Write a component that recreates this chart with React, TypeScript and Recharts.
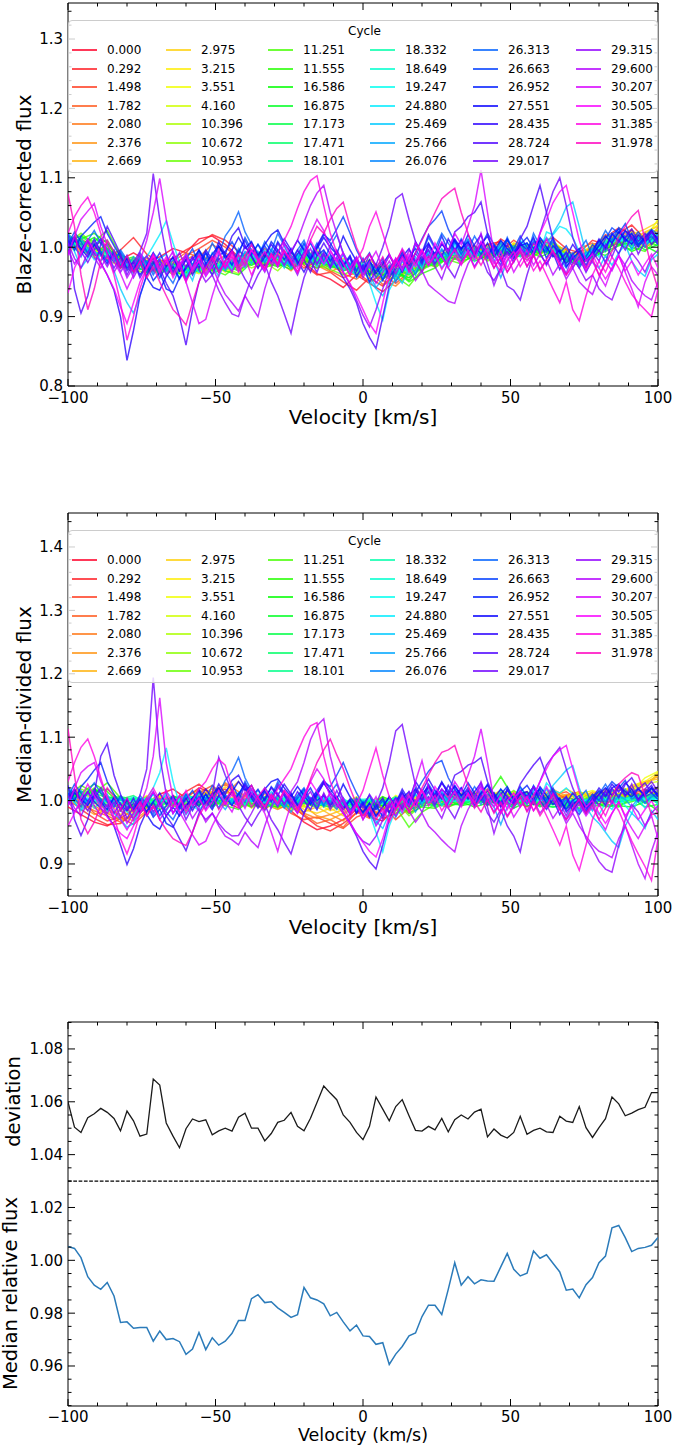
import React from 'react';
import { LineChart, Line, XAxis, YAxis, Legend, ReferenceArea, ReferenceLine } from 'recharts';

const FONT = '"DejaVu Sans", "Liberation Sans", sans-serif';

// observation cycles, legend order
const CYCLES = [
  '0.000', '0.292', '1.498', '1.782', '2.080', '2.376', '2.669',
  '2.975', '3.215', '3.551', '4.160', '10.396', '10.672', '10.953',
  '11.251', '11.555', '16.586', '16.875', '17.173', '17.471', '18.101',
  '18.332', '18.649', '19.247', '24.880', '25.469', '25.766', '26.076',
  '26.313', '26.663', '26.952', '27.551', '28.435', '28.724', '29.017',
  '29.315', '29.600', '30.207', '30.505', '31.385', '31.978',
];

// velocity grid (km/s)
const VELOCITY = [
  -100, -97.8, -95.6, -93.3, -91.1, -88.9, -86.7, -84.4, -82.2, -80,
  -77.8, -75.6, -73.3, -71.1, -68.9, -66.7, -64.4, -62.2, -60, -57.8,
  -55.6, -53.3, -51.1, -48.9, -46.7, -44.4, -42.2, -40, -37.8, -35.6,
  -33.3, -31.1, -28.9, -26.7, -24.4, -22.2, -20, -17.8, -15.6, -13.3,
  -11.1, -8.9, -6.7, -4.4, -2.2, 0, 2.2, 4.4, 6.7, 8.9,
  11.1, 13.3, 15.6, 17.8, 20, 22.2, 24.4, 26.7, 28.9, 31.1,
  33.3, 35.6, 37.8, 40, 42.2, 44.4, 46.7, 48.9, 51.1, 53.3,
  55.6, 57.8, 60, 62.2, 64.4, 66.7, 68.9, 71.1, 73.3, 75.6,
  77.8, 80, 82.2, 84.4, 86.7, 88.9, 91.1, 93.3, 95.6, 97.8,
  100,
];
const VELOCITY_COARSE = VELOCITY.filter((_, i) => i % 2 === 0);

const X_TICKS = [-100, -90, -80, -70, -60, -50, -40, -30, -20, -10, 0, 10, 20, 30, 40, 50, 60, 70, 80, 90, 100];

// bottom panel
const DEVIATION = [
  1.0600, 1.0504, 1.0484, 1.0540, 1.0555, 1.0575, 1.0560, 1.0537, 1.0490, 1.0565,
  1.0528, 1.0470, 1.0478, 1.0686, 1.0663, 1.0520, 1.0470, 1.0426, 1.0498, 1.0535,
  1.0525, 1.0532, 1.0475, 1.0490, 1.0500, 1.0489, 1.0542, 1.0557, 1.0500, 1.0500,
  1.0452, 1.0480, 1.0522, 1.0530, 1.0560, 1.0507, 1.0490, 1.0538, 1.0597, 1.0660,
  1.0633, 1.0608, 1.0550, 1.0522, 1.0484, 1.0457, 1.0507, 1.0618, 1.0572, 1.0528,
  1.0582, 1.0608, 1.0547, 1.0492, 1.0489, 1.0507, 1.0494, 1.0537, 1.0486, 1.0532,
  1.0550, 1.0535, 1.0561, 1.0572, 1.0467, 1.0497, 1.0474, 1.0463, 1.0484, 1.0545,
  1.0477, 1.0492, 1.0500, 1.0486, 1.0484, 1.0545, 1.0527, 1.0522, 1.0582, 1.0502,
  1.0465, 1.0502, 1.0536, 1.0618, 1.0592, 1.0547, 1.0557, 1.0570, 1.0579, 1.0635,
  1.0635,
];
const MEDIAN = [
  1.0052, 1.0045, 1.0010, 0.9938, 0.9906, 0.9890, 0.9916, 0.9865, 0.9765, 0.9767,
  0.9743, 0.9746, 0.9746, 0.9694, 0.9732, 0.9700, 0.9704, 0.9692, 0.9644, 0.9664,
  0.9727, 0.9662, 0.9707, 0.9679, 0.9694, 0.9724, 0.9772, 0.9772, 0.9855, 0.9870,
  0.9840, 0.9843, 0.9820, 0.9803, 0.9784, 0.9794, 0.9897, 0.9858, 0.9850, 0.9835,
  0.9790, 0.9803, 0.9767, 0.9733, 0.9755, 0.9714, 0.9712, 0.9682, 0.9688, 0.9606,
  0.9645, 0.9674, 0.9714, 0.9725, 0.9787, 0.9830, 0.9830, 0.9795, 0.9890, 0.9991,
  0.9906, 0.9938, 0.9911, 0.9926, 0.9922, 0.9921, 0.9975, 1.0026, 0.9966, 0.9941,
  0.9951, 1.0035, 1.0008, 1.0021, 0.9989, 0.9956, 0.9887, 0.9891, 0.9858, 0.9908,
  0.9935, 0.9991, 1.0016, 1.0123, 1.0132, 1.0086, 1.0033, 1.0045, 1.0049, 1.0057,
  1.0086,
];
const DEVIATION_SPLIT = 1.03;

// ---- blaze-corrected flux, offsets from 1.0 in units of 0.001 ----
// quiet spectra read on every second velocity bin
const B0 = [10, -4, -12, 6, -18, -8, -20, -14, -2, -8, 12, 16, 4, -14, -8, -20, -6, -30, -22, -38, -46, -58, -40, -52, -64, -48, -30, -22, -8, -14, 0, -12, 4, 8, -6, 2, 10, 4, -4, -16, 2, 14, 28, 18, 6, 14];
const B1 = [2, 8, -2, -14, -4, 14, -10, -22, -16, -4, 6, 18, 10, -6, -16, -2, -18, -8, -26, -40, -36, -50, -62, -44, -56, -40, -24, -34, -14, -6, -14, 2, -8, 12, 0, -10, 6, 14, -2, -8, 10, 4, 20, 32, 12, 6];
const B2 = [-6, 12, 0, -10, -26, -16, -30, -18, -26, -12, -2, 10, 0, -16, -4, -14, -24, -12, -30, -20, -34, -44, -36, -50, -40, -52, -36, -20, -28, -4, -16, -6, 4, -6, 10, -4, -10, 6, -12, -6, -2, 18, 10, 24, 8, 16];
const B3 = [4, -8, 6, -16, -10, -24, -14, -30, -20, -8, -14, 4, -8, -22, -10, -26, -14, -28, -18, -30, -24, -38, -46, -32, -54, -40, -22, -30, -12, -20, -4, -14, -2, 6, -10, 0, 8, -8, -18, -2, 6, -4, 14, 26, 0, 10];
const B4 = [12, 0, -16, -4, -20, -30, -16, -26, -34, -18, -8, -22, -12, -28, -18, -6, -20, -34, -16, -26, -36, -26, -42, -34, -48, -56, -38, -28, -14, -24, -8, -18, -6, -14, 4, -8, 2, -10, -4, -18, -6, 8, 22, 6, 18, 24];
const B5 = [-2, 10, -6, 2, -14, -22, -32, -20, -28, -38, -20, -14, -28, -16, -4, -18, -10, -24, -12, -20, -28, -34, -20, -40, -30, -44, -26, -14, -24, -8, -12, 0, -14, -4, -10, 4, -6, 6, -16, -10, 2, 12, 4, 16, 10, 28];
const B6 = [8, -6, -2, -18, -28, -16, -24, -36, -22, -30, -32, -18, -24, -12, -22, -10, -26, -16, -4, -18, -12, -30, -22, -36, -26, -40, -32, -16, -10, -18, -2, -10, 2, -8, 6, -4, 10, 2, -8, -14, 0, 6, 16, 10, 22, 30];
const B7 = [0, 14, -10, -4, -20, -34, -22, -30, -38, -26, -22, -34, -26, -18, -10, -24, -14, -30, -6, -12, -26, -16, -34, -24, -38, -30, -20, -26, -12, -2, -14, -4, -12, 4, -8, -2, 8, -6, -10, -20, -4, 10, 6, 18, 26, 36];
const B8 = [6, -4, -14, 0, -30, -20, -34, -24, -30, -40, -30, -24, -36, -28, -12, -20, -8, -22, -14, -4, -18, -28, -20, -32, -24, -42, -34, -22, -16, -6, -10, 2, -14, -6, -2, -12, 6, 0, -14, -8, -12, 4, 14, 8, 20, 32];
const B9 = [-8, 6, -4, -12, -26, -36, -28, -20, -32, -44, -26, -32, -22, -34, -20, -12, -24, -18, -10, -22, -30, -20, -28, -38, -30, -24, -36, -18, -24, -14, -4, -14, 0, -10, 6, -6, 2, -8, -20, -12, 4, -2, 10, 22, 12, 40];
const B10 = [14, 2, -6, -16, -22, -30, -20, -34, -26, -32, -38, -28, -34, -20, -26, -14, -28, -20, -16, -6, -24, -32, -26, -18, -34, -28, -40, -30, -20, -10, -16, -6, -18, 2, -8, -14, -2, 8, -6, -16, -8, 6, 18, 4, 14, 26];
const B11 = [-4, 10, -12, -2, -18, -32, -38, -26, -36, -28, -34, -22, -30, -38, -18, -28, -12, -26, -20, -10, -16, -28, -38, -24, -30, -38, -26, -34, -14, -20, -6, -12, -4, -14, 0, -8, -4, 4, -12, -22, -10, 0, 20, 12, 0, 16];
const B12 = [18, 4, -2, -10, -30, -22, -30, -38, -28, -34, -24, -38, -28, -20, -30, -22, -34, -14, -24, -16, -26, -20, -34, -42, -28, -36, -44, -22, -28, -12, -18, -8, -16, -6, -12, 2, -10, -2, -16, -24, -14, 8, 4, 14, 6, 20];
const B13 = [6, 20, 4, -8, -16, -28, -34, -24, -40, -30, -36, -26, -20, -32, -24, -12, -20, -28, -18, -26, -32, -40, -30, -26, -38, -46, -34, -26, -16, -22, -12, -4, -20, -8, 2, -10, -6, 6, -10, -18, -2, 2, 12, 6, 16, 10];
const B14 = [10, 16, 8, 24, -12, -20, -30, -36, -26, -38, -28, -32, -40, -26, -18, -30, -22, -14, -24, -30, -20, -34, -26, -36, -30, -42, -56, -32, -24, -18, -24, -10, -2, -14, -6, -18, -8, 0, -20, -10, -16, -4, 8, 0, -6, 12];
const B15 = [0, 12, 20, 6, -20, -14, -26, -20, -34, -42, -32, -24, -34, -40, -22, -26, -18, -30, -22, -14, -28, -24, -40, -30, -46, -34, -50, -38, -30, -14, -20, -14, -6, -2, -12, -4, -14, -6, -22, -14, -6, -12, 4, -4, 10, 2];
const B16 = [12, 4, 14, -2, -14, -30, -20, -28, -30, -36, -26, -34, -24, -30, -14, -22, -28, -20, -12, -24, -18, -30, -22, -34, -40, -32, -48, -26, -20, -12, -10, -20, -12, -4, -16, -8, 0, -12, -18, -26, -12, -2, 6, -6, 2, -8];
const B17 = [16, 8, 4, 10, -24, -26, -36, -30, -24, -32, -34, -26, -30, -22, -26, -18, -24, -32, -16, -20, -26, -34, -28, -40, -26, -38, -44, -30, -22, -16, -14, -6, -14, -10, -4, -14, -2, -8, -16, -20, -14, -6, 2, 8, -4, 4];
const B18 = [8, 16, 2, -6, -18, -24, -28, -34, -26, -30, -24, -30, -26, -34, -20, -14, -26, -18, -10, -20, -30, -26, -34, -28, -36, -30, -40, -24, -18, -8, -16, -8, -12, -2, -10, -4, -8, 2, -14, -22, -8, 0, 10, 2, 8, 14];
const B19 = [4, 10, -2, -10, -22, -18, -32, -26, -32, -28, -30, -22, -28, -24, -16, -26, -20, -24, -14, -18, -22, -32, -24, -30, -34, -40, -30, -22, -26, -12, -8, -14, -6, -10, 2, -8, -4, -10, -20, -14, -4, 4, 14, 8, 12, 6];
const B20 = [14, 2, -10, -4, -20, -28, -24, -30, -36, -26, -28, -20, -32, -26, -12, -20, -14, -22, -8, -16, -24, -28, -22, -34, -30, -38, -32, -20, -14, -6, -12, -2, -10, 0, -6, 4, -2, -6, -14, -18, -2, 8, 16, 6, 10, 18];
const B21 = [10, -2, -6, -14, -24, -22, -30, -26, -32, -30, -24, -30, -26, -20, -16, -22, -16, -26, -12, -14, -20, -30, -26, -30, -34, -36, -28, -22, -16, -10, -6, -12, -4, -6, -2, -8, 4, -4, -16, -12, -6, 6, 12, 10, 4, 14];
const B22 = [2, 8, -12, -6, -28, -20, -26, -32, -26, -34, -22, -26, -30, -24, -10, -18, -22, -18, -6, -20, -24, -20, -30, -26, -36, -30, -34, -18, -20, -8, -10, -4, -8, 2, -6, -2, 2, -2, -12, -16, -4, 2, 18, 4, 8, 12];
const B23 = [6, 0, -8, -10, -22, -26, -22, -28, -30, -28, -26, -22, -28, -22, -14, -16, -20, -22, -10, -12, -18, -26, -22, -28, -32, -34, -30, -24, -12, -12, -8, -8, -6, -2, -4, -6, 0, -6, -10, -14, -6, 4, 10, 8, 6, 10];
// active spectra read on every velocity bin
const B24 = [
  8, -2, -10, -4, -18, -12, -20, -8, -22, -30,
  -38, -20, -14, 2, 18, 38, 6, -22, -40, -28,
  -36, -22, -40, -28, -18, -32, -14, -30, -8, -20,
  -4, -18, -26, -10, -30, -14, -2, -22, -8, -26,
  -12, -30, -18, -34, -40, -28, -52, -80, -105, -62,
  -44, -28, -38, -18, -30, -6, -22, -12, -26, 4,
  -14, 2, -20, 4, -10, -22, 8, -6, -16, 10,
  -2, 14, -8, 22, 18, 30, 26, 14, -6, -16,
  -2, -14, 8, 20, 6, 16, -4, 12, 2, 18,
  14,
];
const B25 = [
  12, -6, -30, -16, -4, -20, -10, -34, -60, -80,
  -95, -70, -40, -30, -18, -36, -24, -44, -30, -48,
  -20, -38, -26, -42, -22, -34, -16, -8, -24, -6,
  -20, -2, -14, -30, -12, -26, -4, -18, -28, -10,
  -30, -16, -34, -22, -44, -30, -48, -60, -70, -50,
  -40, -52, -30, -36, -14, -26, -8, -30, -16, -4,
  -18, -2, -12, 6, -10, 4, -8, 10, -2, -14,
  6, -6, 14, 4, 20, 36, 58, 65, 30, -10,
  -22, -30, -12, -26, -8, 4, -20, -34, -42, -18,
  -10,
];
const B26 = [
  20, 8, 14, -2, 6, -10, 4, -18, -6, -28,
  -14, -32, -20, -36, -16, -10, -38, -22, -44, -30,
  -16, -28, -8, -20, -34, -18, -26, -6, -12, 4,
  -8, -22, -4, -16, -30, -10, 0, -20, -6, -24,
  -14, -8, -26, -16, -36, -24, -40, -58, -46, -30,
  -42, -20, -34, -14, -28, -4, -16, -2, -20, 8,
  -6, 10, -12, 2, -8, -18, -44, -20, -6, 4,
  -10, 8, -4, 14, 2, -16, -30, -12, -24, -6,
  -18, 4, 16, 8, 22, 12, -2, 14, 6, 20,
  12,
];
const B27 = [
  -2, 14, 4, -10, 2, 12, -4, -16, -8, -20,
  -30, -12, -24, -8, -20, -34, -18, -28, -10, -26,
  -6, -20, -14, -32, -10, -24, -2, -16, 6, -8,
  -22, -6, -12, -26, -8, -18, 4, -10, -24, -6,
  -16, -28, -10, -34, -18, -38, -22, -30, -44, -26,
  -50, -32, -20, -40, -18, -10, -24, -4, -14, 8,
  -4, 12, -2, -16, 0, -10, 6, -8, -20, -2,
  -12, 10, 0, -6, 8, -4, -20, -8, -26, -12,
  -2, 8, -6, 18, 10, 24, 6, 16, 0, 12,
  20,
];
const B28 = [
  18, 2, -14, 10, 24, 6, -10, -22, -4, -18,
  -30, -8, -22, -40, -24, -38, -52, -30, -12, -26,
  -4, -18, 6, -10, 16, 30, 51, 22, 4, -14,
  8, -6, 20, 2, -18, -4, 10, -12, 6, -20,
  2, 18, -8, -26, -14, -36, -20, -44, -30, -12,
  -28, -6, -22, 4, -10, 14, -2, 20, 6, -8,
  12, -4, 16, 0, -16, 4, -10, 14, -6, 8,
  -12, 20, 2, -8, 12, -20, -6, -24, -4, 10,
  -14, 6, 24, 10, 28, 14, 20, 2, 16, 26,
  18,
];
const B29 = [
  4, 22, 8, -8, 12, -6, -20, -4, -28, -12,
  -32, -16, -36, -20, -44, -28, -14, -34, -18, -2,
  -24, -8, -30, -12, -6, 8, -10, 14, -4, -18,
  2, -14, 8, -6, -24, -10, 6, -16, 0, 18,
  10, 26, 44, 20, -4, -22, -8, -30, -16, -40,
  -22, -6, -26, -8, 12, 30, 40, 52, 26, 8,
  -10, 6, -14, 2, 20, 4, -12, 10, -2, 16,
  0, -12, 8, -4, 14, -8, 2, -16, -30, -14,
  4, -6, 12, 28, 20, 34, 10, 22, 8, 16,
  4,
];
const B30 = [
  10, -4, 16, 26, 36, 44, 20, 2, -14, -30,
  -22, -40, -26, -48, -36, -60, -65, -44, -28, -14,
  -30, -8, -22, 2, -12, -26, -6, 10, -10, 4,
  -14, 8, -4, -18, -2, -24, -8, 6, -12, -4,
  -20, -6, -26, -12, -34, -16, -40, -24, -48, -30,
  -18, -36, -14, -2, -20, 4, -10, 16, -6, 10,
  -4, 18, 2, -10, 6, -14, 0, 12, -8, 4,
  14, -2, 10, -16, 2, -8, -24, -10, -2, -18,
  -8, 10, 0, 18, 26, 8, 20, 4, 14, 24,
  10,
];
const B31 = [
  -6, 10, -2, -14, 4, -10, -24, -8, -30, -16,
  -36, -20, -44, -58, -62, -42, -28, -46, -30, -18,
  -4, -24, -10, 2, -16, -4, 14, -2, 8, -12,
  4, 18, 25, 6, -8, 10, -4, -18, -2, 14,
  0, -10, 16, -4, -20, -32, -18, -38, -24, -10,
  -30, -14, -2, -22, -8, 6, -12, 4, -4, 12,
  -2, 8, -10, 4, 16, -6, 10, -2, -12, 2,
  6, -8, 14, 0, -14, -4, -28, -16, -6, -20,
  -10, 2, 16, 6, 22, 12, 4, 18, 8, 22,
  12,
];
const B32 = [
  2, 16, -4, 10, -8, -22, -40, -62, -100, -163,
  -120, -70, -40, -24, -8, -28, -14, -34, -18, -40,
  -22, -4, -18, 8, -10, 16, 28, 2, -12, -30,
  -14, 4, -8, 12, -4, -20, -36, -16, 2, 20,
  6, -10, -28, -14, -42, -26, -50, -34, -20, -44,
  -30, -10, -26, 8, -8, 18, 0, -14, 12, -4,
  10, -8, 4, 18, -12, 2, -20, -6, -16, 6,
  -4, 14, -10, -24, -8, -32, -14, 4, -10, -26,
  -6, 12, -2, 20, 8, 24, 14, 0, 12, 24,
  8,
];
const B33 = [
  20, -60, -95, -70, -30, 4, 30, 10, -10, -34,
  -20, -44, -26, -8, -30, -52, -70, -100, -141, -90,
  -50, -24, -40, -16, -30, -6, -22, 2, -14, -30,
  -8, -22, 6, -10, -26, -4, -18, -36, -12, 6,
  -10, -28, -44, -60, -80, -110, -130, -146, -100, -56,
  -30, -12, -34, -8, -24, 2, -16, 6, -10, 22,
  30, 44, 50, 65, 20, -10, -26, 4, -14, 12,
  30, 60, 89, 50, 12, -20, -8, -30, -14, -36,
  -18, -4, -22, 6, -10, 14, 26, 8, 20, 4,
  16,
];
const B34 = [
  -10, 14, -6, -22, -4, 12, -8, -30, -14, -40,
  -22, -6, 20, 106, 40, -10, -36, -20, -48, -28,
  -10, -30, -14, -36, -20, -4, -28, -46, -60, -40,
  -24, -50, -70, -96, -124, -80, -44, -20, -36, -10,
  -28, -4, -22, -40, -16, -32, -10, -26, 0, 30,
  70, 77, 40, 8, -16, -4, -24, -10, -30, -44,
  -20, -8, -28, -12, -36, -48, -30, -56, -62, -76,
  -40, -10, 20, 50, 80, 100, 60, 14, -12, -30,
  -6, -20, 4, -14, 10, -4, 16, -10, 8, 22,
  6,
];
const B35 = [
  6, -16, -30, -8, 10, -12, -28, -10, -36, -20,
  -44, -26, -12, -34, -18, -40, -24, -8, -30, -14,
  -32, -50, -40, -62, -80, -96, -100, -70, -44, -20,
  -36, -12, -28, -6, -22, -40, -16, -2, -24, -8,
  -30, -14, -36, -54, -76, -98, -115, -90, -60, -34,
  -16, -30, -4, -20, -36, -12, -28, -46, -20, -2,
  -16, 4, -10, 8, -24, -55, -30, -8, -22, 0,
  -14, 6, -8, -26, -6, -20, -38, -12, -30, -48,
  -40, -60, -70, -76, -50, -24, -8, -20, -36, -14,
  -4,
];
const B36 = [
  -4, -24, -10, 8, -14, -30, -12, -36, -20, -44,
  -28, -10, -32, -16, -38, -22, -6, -28, -14, -36,
  -20, -42, -28, -50, -68, -80, -92, -70, -86, -100,
  -60, -30, -10, -26, -6, 10, 36, 60, 78, 89,
  50, 20, -10, -30, -18, -44, -26, -52, -36, -20,
  -38, -18, -30, -48, -34, -54, -62, -70, -78, -81,
  -50, -24, -8, 20, -12, -30, -14, -36, -20, -6,
  -28, -10, -32, -18, -40, -24, -46, -30, -50, -60,
  -68, -44, -20, -34, -12, -26, -48, -60, -70, -76,
  -50,
];
const B37 = [
  -12, 16, 40, 52, 63, 30, 4, -20, -38, -60,
  -40, -20, 10, 50, 99, 40, -10, -30, -50, -80,
  -110, -104, -70, -40, -20, -36, -10, -28, -4, -18,
  -32, -10, -24, 6, -12, -30, -8, 20, 40, 24,
  -4, -20, -8, -30, -14, -40, -22, -6, -30, -12,
  -24, -2, -18, 6, -10, -26, -12, 8, -6, 20,
  4, 30, 60, 111, 50, -10, -30, -12, -36, -20,
  -4, -26, -10, 12, -8, -24, -40, -28, -16, -34,
  -20, -40, -56, -30, -12, -36, -60, -86, -50, -28,
  -40,
];
const B38 = [
  -66, -30, -10, 12, -6, -24, -40, -60, -86, -110,
  -80, -50, -30, -12, -36, -18, -44, -26, -10, -32,
  -20, -40, -26, -8, -30, -14, -36, -22, -4, -20,
  -34, -12, -28, -6, -18, -36, -14, 10, -8, -24,
  -6, -20, -36, -52, -70, -90, -110, -124, -80, -40,
  -16, -34, -10, -28, -4, -20, 6, -14, -30, -12,
  -26, -4, -18, 8, -8, -24, -6, -30, -12, -2,
  -20, -8, 20, 40, 64, 80, 89, 50, 10, -20,
  -10, -30, -46, -30, -12, -34, -20, -40, -24, -10,
  -30,
];
const B39 = [
  20, 44, 60, 72, 50, 20, -10, -40, -80, -134,
  -100, -60, -30, -10, -30, -14, -40, -22, -50, -30,
  -12, -36, -20, -4, -28, -10, -34, -16, -40, -20,
  -6, -24, -8, 10, 30, 56, 80, 96, 103, 60,
  20, -8, -24, -40, -20, -2, 30, 51, 20, -10,
  -30, -14, -36, -20, -4, -26, -10, -32, -16, -4,
  -24, -8, -30, -14, -2, -20, -36, -18, -6, -28,
  -12, -34, -20, -40, -60, -80, -50, -90, -106, -70,
  -40, -20, -36, -14, -30, -50, -68, -80, -90, -100,
  -60,
];
const B40 = [
  77, 30, -40, -90, -60, -20, 10, -6, -30, -12,
  -36, -20, -44, -28, -50, -70, -90, -100, -112, -80,
  -50, -30, -14, -36, -20, -6, -28, -12, 4, -16,
  -30, -10, -24, -4, -20, -36, -16, 10, 30, 20,
  40, 56, 65, 30, 0, -20, -10, -30, -14, -36,
  -20, -4, -24, -8, 10, 30, 50, 70, 78, 85,
  50, 20, -10, -26, -8, -30, -14, -36, -20, -6,
  -28, -12, -34, -18, -4, -26, -40, -24, -10, -30,
  -16, -40, -24, -6, 16, 30, 44, 53, 10, -30,
  -60,
];

// ---- median-divided flux, offsets from 1.0 in units of 0.001 ----
const D0 = [-10, -22, -34, -40, -28, -14, -4, 10, 18, 4, 20, 12, -2, -12, 6, -8, 4, -16, -34, -46, -40, -30, -14, -26, -32, -12, 2, -6, 10, -4, 8, -6, 10, 2, -8, 6, 12, -2, 8, -4, 6, -6, 10, 4, -2, 8];
const D1 = [4, -14, -28, -38, -36, -20, -8, 4, -6, 14, 26, 10, 18, 0, -10, 4, -12, -6, -24, -40, -48, -36, -20, -10, -28, -20, -4, 6, -6, 8, -2, 10, -4, 12, 0, -10, 4, 16, 2, -6, 10, 0, 4, 14, 6, 12];
const D2 = [-6, 2, -20, -32, -26, -38, -18, -6, 8, -2, 12, 24, 6, -6, 2, -12, -2, -20, -30, -26, -36, -44, -26, -18, -8, -30, -12, 0, 4, -8, 6, -4, 2, -8, 8, 0, -6, 8, 14, 0, -4, 8, 2, 10, 18, 6];
const D3 = [8, -6, -16, -24, -34, -22, -10, 0, -8, 6, 4, 14, 26, 8, -4, -14, 2, -10, -22, -36, -30, -42, -18, -28, -14, -6, -20, -4, 2, -10, 0, 8, -6, 4, -4, 10, -2, 2, 8, 14, 4, -2, 12, 6, 16, 10];
const D4 = [-2, -10, -8, -20, -30, -26, -12, 2, -6, 8, 16, 6, 28, 14, 0, -6, -14, -4, -20, -28, -22, -32, -14, -20, -6, -16, 4, -6, 6, -2, 10, 2, 8, -4, 6, 14, 0, 10, 4, 12, 8, 14, 6, 20, 28, 38];
const D5 = [6, -8, -22, -14, -24, -32, -16, -4, 4, -8, 8, 18, 10, 30, 4, -10, -2, -16, -8, -24, -30, -20, -8, -24, -12, 2, -10, 8, -2, 6, -4, 12, 2, 10, -2, 6, 16, 4, 10, 2, 14, 6, 18, 12, 24, 42];
const D6 = [-4, 6, -12, -20, -16, -26, -8, 6, -4, 10, 2, 20, 14, 4, 12, -6, 6, -12, -18, -10, -22, -14, -6, -18, 0, -10, 6, -4, 10, 0, 8, -2, 14, 4, 12, 2, 8, 18, 6, 14, 4, 16, 10, 22, 30, 34];
const D7 = [2, -6, -2, -14, -22, -12, 2, -8, 6, -2, 14, 4, 22, 8, -2, 10, -6, 2, -14, -20, -12, -24, -4, -14, 4, -8, 10, 2, -6, 12, 2, 14, 4, 16, 8, 0, 12, 6, 18, 8, 12, 4, 20, 14, 26, 40];
const D8 = [10, -2, 4, -8, -16, -6, 8, -4, 2, -10, 6, 14, 0, 10, -8, 4, -12, 0, -10, -4, -16, -8, 2, -12, 6, -6, 10, -2, 8, 0, 10, 4, 16, 8, 2, 12, 4, 10, 0, 14, 6, 18, 10, 24, 30, 44];
const D9 = [-6, 4, -10, -2, -12, -20, -4, 6, -8, 2, -4, 10, 2, -6, 6, -10, 0, -14, -4, -12, -6, -18, -2, 4, -10, 8, -4, 6, -8, 4, 12, 0, 8, -2, 10, 4, 14, 2, -6, 10, 16, 8, 22, 14, 36, 46];
const D10 = [12, 2, -4, -14, -6, -18, -10, 2, -6, 8, -2, 6, -8, 4, -12, 0, -6, 6, -10, -2, -12, -4, 6, -8, 2, -14, 0, 10, -2, 8, 2, 12, -4, 6, 14, 0, 8, -4, 4, 12, 0, 10, 4, 18, 26, 30];
const D11 = [4, 14, 0, -8, 2, -12, -4, 8, -2, 6, -8, 2, -6, 10, -4, -12, 2, -8, 4, -6, -2, -14, -6, 0, -10, -20, -6, 4, -4, 6, -6, 8, 0, 14, 2, -4, 8, 0, -8, 4, 8, -2, 10, 4, 14, 20];
const D12 = [8, 18, 10, -4, -10, -2, 6, -6, 4, -4, 6, -10, 0, -6, 8, -4, -12, 2, -6, 4, -10, -2, -12, -4, 6, -16, -8, 2, -6, 10, 0, 6, -8, 8, -2, 12, 2, 10, -4, 2, -2, 12, 4, 10, 0, 16];
const D13 = [14, 6, 20, 2, -6, -14, 0, -10, 2, -8, 0, -6, 8, -4, -10, 6, -2, -12, 0, -8, 2, -10, -4, -16, -6, -2, -24, -8, 4, -4, 6, -2, 10, 2, 16, 0, 6, -6, 4, 0, 8, 2, -4, 6, 12, 4];
const D14 = [6, 24, 12, 28, 4, -8, -2, -14, -4, -12, -2, -10, 4, -8, -4, -12, 0, 8, -4, -10, 0, -8, -2, -12, 2, -10, -42, -18, -6, -10, -2, 10, 18, 4, 8, -4, 2, 8, -10, 4, -6, 4, -2, 8, -4, 6];
const D15 = [2, 12, 26, 14, -6, 4, -4, 2, -8, -16, -6, -2, -8, -14, 2, -6, 4, -4, -2, 6, -6, 2, -12, 0, -14, 2, -20, -10, -12, 0, -8, -4, 6, 38, 4, 8, -6, -2, -12, -4, 0, -10, -6, -2, 6, -4];
const D16 = [10, 4, 18, 6, 2, -10, 4, -2, 0, -6, 2, -8, 6, -6, 0, -6, -10, 2, -2, -8, 4, -6, 2, -4, -8, 4, -16, -2, -4, 2, -2, -10, -4, 0, -12, -2, -8, -10, -6, -12, -4, -6, -8, -10, -2, -16];
const D17 = [16, 8, 14, 18, 0, 2, -10, -2, 6, 4, -6, 2, 0, 2, -10, 4, -6, -10, -4, -6, -4, -12, 0, -10, 6, -2, -14, -8, -6, -6, -6, 4, -6, 4, 2, -8, -4, -6, -4, -4, -8, -8, -10, 4, -10, -6];
const D18 = [2, 14, 12, 4, 6, 2, -2, -8, 4, 6, 4, -2, 6, -2, -6, 2, -8, 4, 0, -6, -10, -4, -8, 2, -4, 6, -10, -4, -2, 2, -8, 2, -4, 2, -8, 2, -10, 4, -2, -8, 0, -2, -2, 0, 4, 6];
const D19 = [0, 10, 8, -2, 2, 8, -6, 2, -2, 8, -2, 6, 4, -2, 0, -10, -2, -2, -4, -4, 0, -10, 2, -2, -2, -4, -2, 0, -10, 0, 0, -6, 2, -6, 6, -4, -4, -10, -8, 0, 4, 2, 2, 6, 8, -2];
const D20 = [10, 2, -2, 4, 4, -2, 2, -4, -6, 10, 0, 10, 0, -4, 4, -4, 4, 0, 2, -2, -2, -6, 4, -6, 2, -2, -4, 2, 4, 4, -4, 8, -2, 4, -2, 8, -4, -6, -4, -4, 6, 6, 4, 4, 6, 10];
const D21 = [6, -4, 2, -6, 0, 4, -4, 2, -2, 6, 2, 0, 4, 2, -2, 6, 2, -4, -2, 0, 0, -8, -2, 0, -4, 0, 0, 0, 2, 0, 2, -2, 4, -4, 2, -4, 4, -4, -6, 2, 0, 4, 0, 6, 0, 6];
const D22 = [-2, 6, -4, 2, -4, 6, 0, -6, 4, -2, 6, 4, 0, 0, 4, -2, -4, 4, 4, -6, -4, 2, -6, 2, -6, 6, -6, 4, -4, 4, 0, 4, 0, 6, -4, 4, 0, 0, -2, -2, 2, 0, 6, 0, 4, 4];
const D23 = [2, -2, 0, -2, 2, 0, 4, 0, 0, 8, 2, 4, 2, 2, 0, 0, -2, 0, 2, 2, 2, -4, 2, 2, -2, 2, 0, -2, 4, -2, 0, 0, 2, 2, 2, 0, 0, 0, 0, 0, 0, 2, -4, 6, 2, 2];
const D24 = [
  10, -4, -14, 4, -12, -2, -16, 4, -8, -18,
  -24, -6, 2, 20, 44, 83, 30, -6, -20, -8,
  -16, 0, -14, 4, 8, -6, 10, -8, 12, -2,
  14, 0, -8, 6, -10, 8, 16, -4, 10, -6,
  6, -10, 4, -8, -14, 0, -20, -50, -81, -40,
  -14, 4, -8, 10, -4, 18, 2, 12, -6, 14,
  -2, 12, -6, 16, 2, -10, 18, 4, -4, 20,
  8, 22, 2, 28, 16, 12, 20, 10, -6, -20,
  -8, -22, -4, -14, 6, -8, -20, 2, -12, 4,
  -6,
];
const D25 = [
  14, -2, -16, -4, 8, -10, 4, -20, -30, -42,
  -36, -14, -2, 10, -6, 14, 2, -10, 8, -8,
  12, -6, 8, -12, 6, -4, 12, 20, -2, 10,
  -4, 14, 0, -10, 8, -6, 12, -2, -14, 4,
  -8, 6, -10, 2, -18, -4, -20, -32, -44, -20,
  -8, -20, 2, -6, 10, -2, 16, -8, 4, 12,
  -6, 8, -4, 14, -2, 12, -6, 18, 4, -10,
  10, -2, 20, 8, 24, 36, 48, 55, 20, -10,
  -26, -36, -50, -64, -74, -40, -20, -30, -44, -16,
  -30,
];
const D26 = [
  22, 10, 16, 0, 8, -6, 10, -10, 4, -14,
  2, -16, -4, -18, 0, 8, -20, -4, -22, -8,
  6, -8, 10, -2, -14, 2, -6, 12, 4, 16,
  2, -12, 8, -4, -18, 2, 14, -6, 8, -10,
  0, 6, -12, 2, -16, -4, -20, -36, -22, -6,
  -14, 8, -6, 10, -8, 14, 0, 16, -4, 18,
  4, 20, -2, 10, 0, -10, -38, -10, 4, 12,
  -2, 14, 2, 18, 6, -12, -30, -6, -18, -2,
  -16, 4, 12, -6, 8, 2, -10, 4, -4, 10,
  2,
];
const D27 = [
  0, 16, 6, -6, 6, 16, 2, -6, 4, -8,
  -12, 4, -6, 12, -2, -16, 0, -10, 10, -6,
  14, -4, 4, -12, 10, -6, 12, -2, 18, 4,
  -8, 8, 2, -12, 4, -6, 14, 2, -12, 8,
  -2, -14, 4, -18, -2, -22, -6, -10, -24, -4,
  -26, -8, 2, -18, 0, 6, -8, 12, 2, 16,
  6, 20, 8, -6, 10, 0, 12, -2, -12, 6,
  -4, 18, 8, 0, 14, 2, -12, 2, -16, -2,
  8, 14, -2, 16, 8, 18, 2, 10, -4, 6,
  12,
];
const D28 = [
  20, 4, -10, 14, 28, 12, -2, -10, 8, -4,
  -14, 8, -6, -22, -6, -18, -30, -10, 10, -4,
  18, 2, 24, 10, 32, 46, 68, 36, 16, 0,
  20, 6, 30, 12, -6, 8, 20, 2, 14, -8,
  12, 26, 2, -14, -2, -20, -4, -26, -10, 6,
  -8, 12, -4, 20, 6, 26, 10, 28, 16, 2,
  20, 4, 22, 8, -8, 10, -4, 18, 0, 14,
  -6, 24, 8, -2, 16, -12, 2, -16, 4, 16,
  -8, 10, 26, 8, 24, 10, 14, -2, 10, 18,
  10,
];
const D29 = [
  6, 26, 12, -2, 18, 2, -10, 6, -16, 2,
  -14, 2, -18, -2, -24, -8, 6, -14, 2, 16,
  -4, 10, -10, 8, 14, 26, 6, 30, 10, -4,
  16, 0, 22, 8, -10, 4, 18, -2, 12, 30,
  22, 40, 60, 34, 12, -6, 8, -14, 0, -20,
  -2, 14, -6, 12, 30, 46, 58, 63, 36, 18,
  0, 14, -6, 10, 26, 10, -4, 16, 4, 22,
  6, -6, 14, 2, 20, -2, 6, -10, -22, -6,
  10, 0, 16, 30, 20, 32, 10, 20, 6, 12,
  2,
];
const D30 = [
  12, 0, 22, 34, 48, 60, 30, 10, -6, -16,
  -4, -20, -6, -26, -14, -36, -42, -22, -8, 4,
  -10, 10, -4, 20, 6, -8, 10, 26, 6, 18,
  0, 22, 10, -6, 12, -10, 6, 20, 0, 8,
  -8, 6, -14, 0, -20, -2, -22, -6, -26, -8,
  4, -14, 8, 18, 0, 22, 8, 30, 10, 24,
  8, 28, 12, 0, 16, -4, 10, 22, 2, 14,
  24, 8, 18, -6, 10, 0, -14, 0, 8, -8,
  0, 16, 6, 20, 26, 8, 18, 2, 12, 20,
  6,
];
const D31 = [
  -4, 12, 2, -8, 10, -2, -14, 4, -14, 2,
  -18, 0, -22, -38, -45, -24, -10, -24, -8, 4,
  16, -4, 10, 20, 2, 14, 30, 16, 24, 4,
  18, 30, 34, 20, 6, 22, 8, -6, 10, 28,
  12, 2, 26, 6, -8, -18, -4, -24, -10, 6,
  -12, 4, 14, -6, 10, 22, 4, 18, 8, 22,
  8, 16, 0, 12, 24, 4, 18, 6, -4, 10,
  14, 0, 22, 8, -6, 4, -18, -6, 2, -12,
  -2, 10, 20, 8, 24, 14, 6, 18, 8, 20,
  10,
];
const D32 = [
  4, 18, 0, 14, -2, -12, -24, -40, -70, -101,
  -76, -40, -16, -2, 12, -6, 8, -10, 4, -16,
  2, 18, 4, 26, 10, 32, 40, 20, 4, -12,
  4, 20, 8, 26, 10, -6, -20, 0, 16, 32,
  18, 4, -12, 2, -20, -6, -26, -10, 4, -18,
  -4, 18, 0, 30, 14, 34, 16, 2, 24, 8,
  20, 2, 14, 28, -2, 12, -10, 4, -6, 14,
  6, 22, 0, -14, 2, -22, -4, 12, 0, -16,
  4, 20, 8, 26, 14, 28, 18, 2, 14, 24,
  6,
];
const D33 = [
  24, -30, -55, -30, 10, 70, 90, 40, 10, -14,
  4, -18, -2, 14, -6, -24, -40, -60, -79, -50,
  -20, 0, -14, 8, -6, 16, 0, 24, 8, -8,
  14, -2, 26, 10, -6, 14, 0, -14, 8, 28,
  12, -6, -20, -36, -56, -80, -96, -108, -70, -30,
  -6, 12, -10, 16, 0, 24, 6, 28, 12, 40,
  46, 56, 60, 68, 30, 6, -10, 18, 0, 26,
  42, 56, 68, 40, 14, -8, 6, -16, 0, -20,
  -4, 10, -8, 20, 4, 26, 36, 18, 28, 12,
  22,
];
const D34 = [
  -6, 18, 0, -16, 4, 20, 0, -20, -4, -28,
  -10, 8, 50, 194, 70, 10, -20, -4, -30, -10,
  6, -14, 10, 68, 40, 14, -8, -26, -40, -22,
  -6, -30, -46, -66, -84, -50, -20, 4, -14, 12,
  -8, 16, -4, -22, 4, -12, 10, -6, 20, 60,
  110, 120, 70, 24, 2, 14, -6, 10, -12, -28,
  -4, 12, -10, 8, -20, -34, -14, -40, -56, -81,
  -30, 6, 30, 56, 70, 84, 50, 20, -4, -20,
  6, -8, 16, -4, 22, 6, 26, 0, 18, 30,
  14,
];
const D35 = [
  8, -12, -24, -2, 16, -4, -20, -2, -26, -10,
  -30, -12, 4, -18, -2, -24, -8, 8, -14, 2,
  -16, -30, -20, -36, -48, -56, -55, -38, -20, 0,
  -16, 6, -10, 12, -4, -20, 2, 14, -6, 10,
  -14, 4, -18, -34, -52, -64, -70, -56, -30, -10,
  4, -12, 14, -2, -18, 6, -10, -28, -2, 16,
  0, 20, 6, 24, -10, -52, -18, 8, -6, 16,
  2, 22, 8, -10, 12, -4, -24, -2, -28, -60,
  -76, -96, -108, -113, -70, -30, -6, -18, -40, -20,
  -8,
];
const D36 = [
  0, -18, -4, 14, -8, -24, -6, -30, -12, -36,
  -20, -2, -24, -8, -30, -14, 2, -20, -6, -28,
  -12, -34, -20, -40, -56, -62, -70, -50, -64, -74,
  -40, -10, 12, -6, 14, 30, 60, 96, 118, 129,
  70, 30, 0, -20, -6, -30, -12, -40, -24, -6,
  -24, -4, -16, -34, -20, -40, -50, -62, -72, -81,
  -40, -14, 4, 30, 0, -18, -2, -24, -8, 6,
  -16, 2, -20, -6, -28, -12, -36, -20, -40, -56,
  -70, -80, -84, -90, -60, -40, -70, -100, -123, -80,
  -50,
];
const D37 = [
  -8, 20, 44, 54, 60, 30, 6, -14, -30, -46,
  -28, -8, 20, 70, 162, 60, 4, -18, -36, -54,
  -70, -64, -40, -20, -2, -18, 6, -12, 12, -2,
  -20, -50, -80, -40, -6, -20, 4, 30, 50, 34,
  6, -10, 4, -20, -4, -30, -12, 6, -20, -2,
  -14, 8, -8, 30, 63, 20, -2, 18, 4, 30,
  14, 40, 70, 113, 60, 0, -20, -2, -26, -10,
  6, -16, 0, 22, 2, -14, -30, -18, -6, -24,
  -10, -30, -46, -20, -2, -26, -44, -60, -40, -24,
  -60,
];
const D38 = [
  -40, -20, 4, 26, 8, -10, -26, -40, -52, -60,
  -40, -20, -2, 14, -10, 6, -20, -4, 16, -8,
  4, -16, -2, 16, -6, 10, -12, 2, 18, 4,
  -10, 8, -6, 16, 4, -12, 10, 30, 14, -2,
  12, -4, -20, -36, -52, -66, -80, -89, -60, -24,
  0, -18, 8, -10, 16, 0, 22, 6, -12, 6,
  -10, 12, -4, 20, 8, -10, 10, -14, 4, 14,
  -4, 8, 30, 50, 70, 80, 87, 50, 14, -10,
  0, -20, -36, -20, -2, -24, -10, -30, -14, 0,
  -20,
];
const D39 = [
  30, 60, 84, 97, 70, 36, 4, -26, -60, -84,
  -56, -20, 4, 20, 0, 16, -10, 8, -20, 0,
  18, 30, 50, 65, 56, 20, -6, 14, -10, 6,
  20, 2, 18, 34, 50, 76, 100, 118, 123, 70,
  30, 4, -12, -28, -6, 16, 50, 83, 40, 6,
  -14, 4, -18, -2, 16, -8, 8, -16, 0, 14,
  -6, 10, -12, 4, 18, -2, -20, 0, 12, -10,
  6, -16, -2, -24, -46, -70, -40, -86, -110, -70,
  -30, -6, -24, 0, -16, -40, -64, -84, -104, -126,
  -60,
];
const D40 = [
  113, 40, -30, -52, -34, -8, 20, 6, -14, 4,
  -18, -2, -24, -8, -30, -46, -60, -66, -71, -50,
  -24, -6, 10, -14, 2, 16, -8, 8, 24, 4,
  -10, 10, -4, 16, 0, -14, 4, 34, 60, 80,
  97, 72, 50, 20, -6, -24, -10, -30, -12, -34,
  -14, 4, -18, 0, 20, 40, 60, 76, 80, 87,
  56, 24, -2, -18, 2, -20, -4, -26, -10, 6,
  -18, -2, -24, -8, 10, -14, -30, -12, 2, -20,
  -6, -30, -12, 8, 26, 36, 44, 40, 8, -22,
  -20,
];

const BLAZE = [B0, B1, B2, B3, B4, B5, B6, B7, B8, B9, B10, B11, B12, B13, B14, B15, B16, B17, B18, B19, B20, B21, B22, B23, B24, B25, B26, B27, B28, B29, B30, B31, B32, B33, B34, B35, B36, B37, B38, B39, B40];
const DIVIDED = [D0, D1, D2, D3, D4, D5, D6, D7, D8, D9, D10, D11, D12, D13, D14, D15, D16, D17, D18, D19, D20, D21, D22, D23, D24, D25, D26, D27, D28, D29, D30, D31, D32, D33, D34, D35, D36, D37, D38, D39, D40];

const toPoints = (arr: number[]) => {
  const grid = arr.length > 60 ? VELOCITY : VELOCITY_COARSE;
  return arr.slice(0, grid.length).map((d, k) => ({ v: grid[k], f: 1 + d / 1000 }));
};

// matplotlib gist_rainbow
const GIST_R = [[0, 1], [0.03, 1], [0.215, 1], [0.4, 0], [0.586, 0], [0.77, 0], [0.954, 1], [1, 1]];
const GIST_G = [[0, 0], [0.215, 1], [0.4, 1], [0.586, 1], [0.77, 0], [0.954, 0], [1, 0]];
const GIST_B = [[0, 0.16], [0.215, 0], [0.4, 0], [0.586, 1], [0.77, 1], [0.954, 1], [1, 0.75]];
const seg = (pts: number[][], t: number) => {
  for (let i = 1; i < pts.length; i++) {
    if (t <= pts[i][0]) {
      const [x0, y0] = pts[i - 1];
      const [x1, y1] = pts[i];
      return y0 + ((y1 - y0) * (t - x0)) / (x1 - x0);
    }
  }
  return pts[pts.length - 1][1];
};
const gistRainbow = (t: number) =>
  `rgb(${Math.round(seg(GIST_R, t) * 255)},${Math.round(seg(GIST_G, t) * 255)},${Math.round(seg(GIST_B, t) * 255)})`;
const COLORS = CYCLES.map((_, i) => gistRainbow(i / (CYCLES.length - 1)));
const LINE_ALPHA = 0.78;

const P1_DOMAIN: [number, number] = [0.8, 1.3519];
const P2_DOMAIN: [number, number] = [0.8495, 1.4536];
const P3_DOMAIN: [number, number] = [0.94486, 1.0902];
const P1_YTICKS = Array.from({ length: 28 }, (_, i) => Number((0.8 + 0.02 * i).toFixed(2)));
const P2_YTICKS = Array.from({ length: 30 }, (_, i) => Number((0.86 + 0.02 * i).toFixed(2)));
const P3_YTICKS = Array.from({ length: 30 }, (_, i) => Number((0.945 + 0.005 * i).toFixed(3)));

const PLOT_W = 590;

const fmtVel = (v: number) => (v < 0 ? '\u2212' + Math.abs(v) : String(v));
const isTenth = (v: number) => Math.abs(v * 10 - Math.round(v * 10)) < 1e-6;
const isFiftieth = (v: number) => Math.abs(v * 50 - Math.round(v * 50)) < 1e-6;

const makeXTick = (plotH: number, labelDy: number) => (props: any) => {
  const { x, y, payload } = props;
  const v = payload.value as number;
  const major = v % 50 === 0;
  const len = major ? 7 : 3.5;
  return (
    <g>
      <line x1={x} x2={x} y1={y} y2={y - len} stroke="#000" strokeWidth={1} />
      <line x1={x} x2={x} y1={y - plotH} y2={y - plotH + len} stroke="#000" strokeWidth={1} />
      {major && (
        <text x={x} y={y + labelDy} textAnchor="middle" fontSize={15} fontFamily={FONT} fill="#000">
          {fmtVel(v)}
        </text>
      )}
    </g>
  );
};

const makeYTick = (isMajor: (v: number) => boolean, digits: number) => (props: any) => {
  const { x, y, payload } = props;
  const v = payload.value as number;
  const major = isMajor(v);
  const len = major ? 7 : 3.5;
  return (
    <g>
      <line x1={x} x2={x + len} y1={y} y2={y} stroke="#000" strokeWidth={1} />
      <line x1={x + PLOT_W} x2={x + PLOT_W - len} y1={y} y2={y} stroke="#000" strokeWidth={1} />
      {major && (
        <text x={x - 5} y={y} dy="0.36em" textAnchor="end" fontSize={15} fontFamily={FONT} fill="#000">
          {v.toFixed(digits)}
        </text>
      )}
    </g>
  );
};

const xTitle = (text: string, size: number, dy: number) => (props: any) => {
  const vb = props.viewBox || { x: 68, y: 386, width: 590, height: 40 };
  return (
    <text x={vb.x + vb.width / 2} y={vb.y + dy} textAnchor="middle" fontSize={size} fontFamily={FONT} fill="#000">
      {text}
    </text>
  );
};

const yTitle = (items: { text: string; frac: number; cx: number; size: number }[]) => (props: any) => {
  const vb = props.viewBox || { x: 0, y: 3, width: 68, height: 383 };
  return (
    <g>
      {items.map((it) => {
        const cy = vb.y + vb.height * it.frac;
        return (
          <text
            key={it.text}
            x={it.cx}
            y={cy}
            dy="0.35em"
            transform={`rotate(-90 ${it.cx} ${cy})`}
            textAnchor="middle"
            fontSize={it.size}
            fontFamily={FONT}
            fill="#000"
          >
            {it.text}
          </text>
        );
      })}
    </g>
  );
};

const renderLegend = (props: any) => {
  const items = [...(props.payload || [])].sort(
    (a: any, b: any) => CYCLES.indexOf(String(a.value)) - CYCLES.indexOf(String(b.value)),
  );
  return (
    <div
      style={{
        boxSizing: 'border-box',
        width: 590,
        height: 153,
        border: '1px solid #cccccc',
        borderRadius: 4,
        background: 'rgba(255,255,255,0.8)',
        fontFamily: FONT,
        fontSize: 12,
        color: '#000',
        paddingLeft: 3,
      }}
    >
      <div style={{ textAlign: 'center', height: 20, lineHeight: '21px' }}>Cycle</div>
      <div
        style={{
          display: 'grid',
          gridAutoFlow: 'column',
          gridTemplateRows: 'repeat(7, 18.5px)',
          gridTemplateColumns: '94px 102px 102px 103px 103px 80px',
        }}
      >
        {items.map((e: any) => (
          <div key={e.value} style={{ display: 'flex', alignItems: 'center', whiteSpace: 'nowrap' }}>
            <span
              style={{
                display: 'inline-block',
                width: 25,
                height: 0,
                borderTop: `2px solid ${e.color}`,
                opacity: LINE_ALPHA,
                marginRight: 10,
              }}
            />
            <span>{e.value}</span>
          </div>
        ))}
      </div>
    </div>
  );
};

const SpectraPanel = ({ series, domain, yTicks, yLabel }: { series: number[][]; domain: [number, number]; yTicks: number[]; yLabel: string }) => (
  <LineChart width={692} height={440} margin={{ top: 3, right: 34, bottom: 14, left: 0 }}>
    <XAxis
      type="number"
      dataKey="v"
      domain={[-100, 100]}
      allowDataOverflow
      ticks={X_TICKS}
      interval={0}
      tickSize={0}
      tickMargin={0}
      tickLine={false}
      axisLine={false}
      height={40}
      tick={makeXTick(383, 17)}
      label={xTitle('Velocity [km/s]', 20, 38)}
    />
    <YAxis
      type="number"
      domain={domain}
      allowDataOverflow
      ticks={yTicks}
      interval={0}
      width={68}
      tickSize={0}
      tickMargin={0}
      tickLine={false}
      axisLine={false}
      tick={makeYTick(isTenth, 1)}
      label={yTitle([{ text: yLabel, frac: 0.5, cx: 23.5, size: 20 }])}
    />
    {series.map((arr, i) => (
      <Line
        key={CYCLES[i]}
        data={toPoints(arr)}
        dataKey="f"
        name={CYCLES[i]}
        type="linear"
        stroke={COLORS[i]}
        strokeOpacity={LINE_ALPHA}
        strokeWidth={1.5}
        dot={false}
        activeDot={false}
        isAnimationActive={false}
      />
    ))}
    <ReferenceArea x1={-100} x2={100} y1={domain[0]} y2={domain[1]} fill="none" stroke="#000" strokeWidth={1} />
    <Legend
      layout="horizontal"
      verticalAlign="middle"
      align="center"
      wrapperStyle={{ left: 68, top: 20, width: 590, height: 153 }}
      content={renderLegend}
    />
  </LineChart>
);

const devData = DEVIATION.map((d, i) => ({ v: VELOCITY[i], f: d }));
const medData = MEDIAN.map((m, i) => ({ v: VELOCITY[i], f: m }));
const splitFrac = (P3_DOMAIN[1] - DEVIATION_SPLIT) / (P3_DOMAIN[1] - P3_DOMAIN[0]);

const SummaryPanel = () => (
  <LineChart width={692} height={431} margin={{ top: 3, right: 34, bottom: 4, left: 0 }}>
    <XAxis
      type="number"
      dataKey="v"
      domain={[-100, 100]}
      allowDataOverflow
      ticks={X_TICKS}
      interval={0}
      tickSize={0}
      tickMargin={0}
      tickLine={false}
      axisLine={false}
      height={40}
      tick={makeXTick(384, 16)}
      label={xTitle('Velocity (km/s)', 17.5, 35)}
    />
    <YAxis
      type="number"
      domain={P3_DOMAIN}
      allowDataOverflow
      ticks={P3_YTICKS}
      interval={0}
      width={68}
      tickSize={0}
      tickMargin={0}
      tickLine={false}
      axisLine={false}
      tick={makeYTick(isFiftieth, 2)}
      label={yTitle([
        { text: 'deviation', frac: splitFrac / 2, cx: 13.5, size: 19.5 },
        { text: 'Median relative flux', frac: (splitFrac + 1) / 2, cx: 10, size: 19.5 },
      ])}
    />
    <ReferenceLine y={DEVIATION_SPLIT} stroke="#000" strokeWidth={1.2} strokeDasharray="3.7 1.6" />
    <Line data={devData} dataKey="f" name="deviation" type="linear" stroke="#1a1a1a" strokeWidth={1.3} dot={false} activeDot={false} isAnimationActive={false} />
    <Line data={medData} dataKey="f" name="median" type="linear" stroke="#2b7bba" strokeWidth={1.5} dot={false} activeDot={false} isAnimationActive={false} />
    <ReferenceArea x1={-100} x2={100} y1={P3_DOMAIN[0]} y2={P3_DOMAIN[1]} fill="none" stroke="#000" strokeWidth={1} />
  </LineChart>
);

export default function App() {
  return (
    <div style={{ position: 'absolute', left: 0, top: 0, width: 692, height: 1450, overflow: 'hidden', background: '#fff' }}>
      <div style={{ position: 'absolute', left: 0, top: 0 }}>
        <SpectraPanel series={BLAZE} domain={P1_DOMAIN} yTicks={P1_YTICKS} yLabel="Blaze-corrected flux" />
      </div>
      <div style={{ position: 'absolute', left: 0, top: 510 }}>
        <SpectraPanel series={DIVIDED} domain={P2_DOMAIN} yTicks={P2_YTICKS} yLabel="Median-divided flux" />
      </div>
      <div style={{ position: 'absolute', left: 0, top: 1019 }}>
        <SummaryPanel />
      </div>
    </div>
  );
}
